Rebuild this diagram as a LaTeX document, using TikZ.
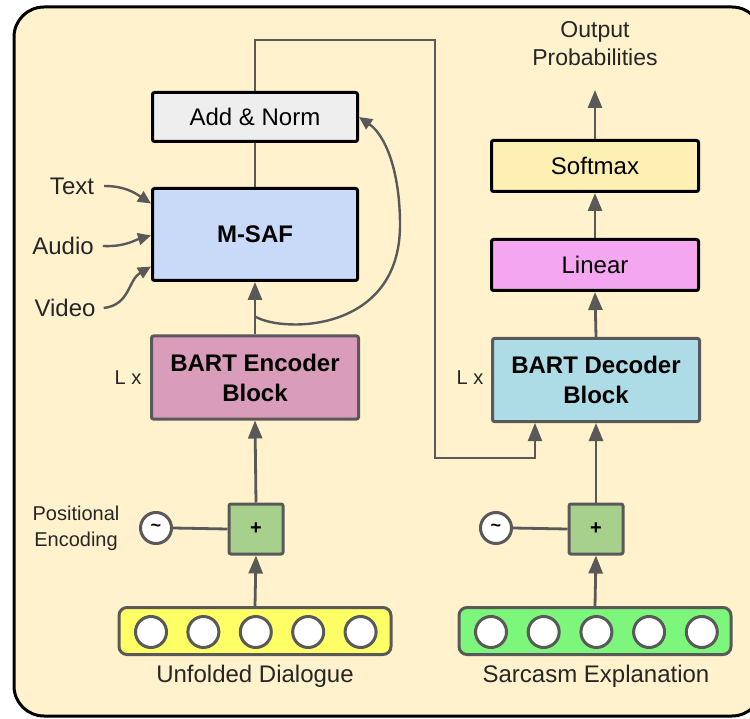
\documentclass[tikz,border=0pt]{standalone}
\usepackage{fontspec}
\setmainfont{Liberation Sans}
\usetikzlibrary{arrows.meta}
\definecolor{bg}{HTML}{FFF2CC}
\definecolor{edge}{HTML}{595959}
\definecolor{ink}{HTML}{262626}
\definecolor{normfill}{HTML}{EEEEEE}
\definecolor{msaffill}{HTML}{C9DAF8}
\definecolor{encfill}{HTML}{DA9CBB}
\definecolor{decfill}{HTML}{ADDCE6}
\definecolor{linfill}{HTML}{F4A6F0}
\definecolor{softfill}{HTML}{FEEFB3}
\definecolor{plusfill}{HTML}{A8D08D}
\definecolor{yelfill}{HTML}{FFFF66}
\definecolor{grnfill}{HTML}{7CF77C}
\tikzset{
  txt/.style={font=\fontsize{24}{29}\selectfont, text=ink, align=center, inner sep=0pt},
  small/.style={font=\fontsize{20}{26}\selectfont, text=ink, align=center, inner sep=0pt},
  box/.style={txt, draw, line width=3pt, rounded corners=2pt, text=black},
  gbox/.style={box, draw=edge},
  plusbox/.style={gbox, fill=plusfill, minimum width=54pt, minimum height=50pt, font=\fontsize{20}{24}\selectfont\bfseries},
  wave/.style={circle, draw=edge, line width=3pt, fill=white, minimum size=31pt, inner sep=0pt, font=\fontsize{18}{20}\selectfont\bfseries},
  tokbar/.style={draw=edge, line width=3pt, rounded corners=8pt, minimum width=272pt, minimum height=47pt, inner sep=0pt},
  tok/.style={circle, draw=edge, line width=3pt, fill=white, minimum size=31pt, inner sep=0pt},
  link/.style={draw=edge, line width=2.8pt},
  arr/.style={link, -{Triangle[length=18pt,width=14pt]}},
  thinarr/.style={draw=edge, line width=2.4pt, -{Triangle[length=13pt,width=12pt]}}
}
\begin{document}
\begin{tikzpicture}[x=1pt,y=-1pt]
\useasboundingbox (0,0) rectangle (750,719);
% outer frame
\draw[line width=3pt, fill=bg, rounded corners=30pt] (14,7) rectangle (762,716);

% ---------------- encoder side ----------------
\node[box, fill=normfill, minimum width=205pt, minimum height=49pt] (norm) at (255,117) {Add \& Norm};
\node[box, fill=msaffill, minimum width=205pt, minimum height=92pt, font=\fontsize{24}{29}\selectfont\bfseries] (msaf) at (255,234.5) {M-SAF};
\node[gbox, fill=encfill, minimum width=207pt, minimum height=83pt, font=\fontsize{24}{30}\selectfont\bfseries] (enc) at (255,377.5) {BART Encoder\\Block};
\node[small] (lxl) at (128,378) {L x};
\node[plusbox] (plusl) at (256,529) {+};
\node[wave] (wavel) at (156,528) {\raisebox{1pt}{\char`~}};
\node[small] (pos) at (76,528) {Positional\\Encoding};
\node[tokbar, fill=yelfill] (barl) at (255,631) {};
\foreach \i in {0,...,4}
  \node[tok] (ul\i) at ({151+52.4*\i},632) {};
\node[txt] (unf) at (255,676) {Unfolded Dialogue};

\node[txt] (ltext) at (72,186) {Text};
\node[txt] (laudio) at (63,246) {Audio};
\node[txt] (lvideo) at (65,308) {Video};

% ---------------- decoder side ----------------
\node[txt, font=\fontsize{23}{28}\selectfont] (outp) at (595,44) {Output\\Probabilities};
\node[box, fill=softfill, minimum width=207pt, minimum height=51pt] (soft) at (595,166) {Softmax};
\node[box, fill=linfill, minimum width=207pt, minimum height=51pt] (lin) at (595,265) {Linear};
\node[gbox, fill=decfill, minimum width=207pt, minimum height=83pt, font=\fontsize{24}{30}\selectfont\bfseries] (dec) at (596,380) {BART Decoder\\Block};
\node[small] (lxr) at (470,378) {L x};
\node[plusbox] (plusr) at (596,529) {+};
\node[wave] (waver) at (496,528) {\raisebox{1pt}{\char`~}};
\node[tokbar, fill=grnfill] (barr) at (595,631) {};
\foreach \i in {0,...,4}
  \node[tok] (ur\i) at ({491+52.7*\i},632) {};
\node[txt] (sarc) at (596,676) {Sarcasm Explanation};

% ---------------- connectors ----------------
\coordinate (outtip) at (595,90);
\coordinate (res) at (256,317);
\coordinate (turnA) at (435,40);
\coordinate (turnB) at (435,458);

\draw[arr] (barl.north) -- (plusl.south);
\draw[arr] (plusl.north) -- (enc.south);
\draw[link] (wavel.east) -- (plusl.west);
\draw[arr] (enc.north) -- (msaf.south);
\draw[link] (msaf.north) -- (norm.south);
\draw[thinarr] (res) .. controls (285,333) and (400,332) .. (400,225)
               .. controls (400,170) and (385,135) .. (norm.east);

% modality inputs curving into the fusion block
\draw[thinarr] (ltext.east) ++(10pt,0) .. controls (125,186) and (135,193) .. ([yshift=31pt]msaf.west);
\draw[thinarr] (laudio.east) ++(9pt,0) .. controls (125,247) and (135,240) .. ([yshift=-1pt]msaf.west);
\draw[thinarr] (lvideo.east) ++(8pt,0) .. controls (130,305) and (128,280) .. ([yshift=-32pt]msaf.west);

\draw[draw=edge, line width=2pt, -{Triangle[length=18pt,width=14pt]}]
  (norm.north) |- (turnA) -- (turnB) -| ([xshift=-61pt]dec.south);

\draw[arr] (barr.north) -- (plusr.south);
\draw[arr] (plusr.north) -- (dec.south);
\draw[link] (waver.east) -- (plusr.west);
\draw[arr] (dec.north) -- (lin.south);
\draw[arr] (lin.north) -- (soft.south);
\draw[arr] (soft.north) -- (outtip);
\end{tikzpicture}
\end{document}
